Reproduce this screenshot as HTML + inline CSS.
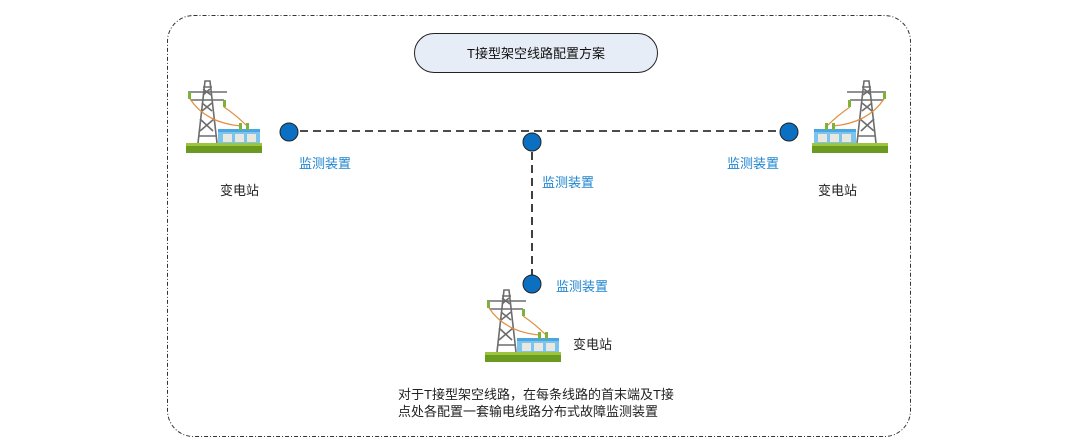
<!DOCTYPE html>
<html><head><meta charset="utf-8"><style>
html,body{margin:0;padding:0;background:#fff;width:1080px;height:447px;overflow:hidden}
svg text{font-family:"Liberation Sans","Noto Sans CJK SC",sans-serif}
</style></head><body>
<svg width="1080" height="447" viewBox="0 0 1080 447" xmlns="http://www.w3.org/2000/svg">
<defs>
<g id="ic">
  <!-- ground -->
  <rect x="0" y="62" width="76" height="10" fill="#6a9a1f"/>
  <rect x="0" y="62" width="76" height="3" fill="#9cc43c"/>
  <!-- tower -->
  <g stroke="#6d6d6d" stroke-width="1.6" fill="none">
    <path d="M12 62 L19 0 L24 0 L31 62"/>
    <path d="M14 50 L28 38 M14 38 L27 50 M16 30 L26 22 M16 22 L26 30 M17 14 L24 8 M17 8 L25 14 M13 55 L30 55"/>
    <path d="M2 11 L41 11 M5 19 L38 19 M17 6 L26 6"/>
  </g>
  <rect x="2" y="11" width="3" height="7" fill="#7db33a"/>
  <rect x="37" y="19" width="3" height="7" fill="#7db33a"/>
  <!-- wires -->
  <path d="M4 18 Q20 42 55 45" stroke="#e09040" stroke-width="1.2" fill="none"/>
  <path d="M38 26 Q50 34 61 45" stroke="#e09040" stroke-width="1.2" fill="none"/>
  <!-- substation -->
  <rect x="32" y="48" width="42" height="14" fill="#7cc4ee"/>
  <rect x="32" y="48" width="42" height="3" fill="#4aa6e0"/>
  <rect x="53" y="42" width="3" height="7" fill="#7db33a"/>
  <rect x="60" y="42" width="3" height="7" fill="#7db33a"/>
  <rect x="37" y="53" width="9" height="8" fill="#e8e8e0"/>
  <rect x="49" y="53" width="9" height="8" fill="#e8e8e0"/>
  <rect x="61" y="53" width="9" height="8" fill="#e8e8e0"/>
</g>
</defs>
<rect x="167.5" y="15.5" width="743" height="421" rx="26" fill="none" stroke="#333" stroke-width="1" stroke-dasharray="4,2,1,2"/>
<rect x="414.5" y="33.5" width="243" height="39" rx="19.5" fill="#e7edf7" stroke="#222" stroke-width="1"/>
<text x="536" y="58" font-size="13" text-anchor="middle" fill="#111">T接型架空线路配置方案</text>

<use href="#ic" x="186" y="81"/>
<use href="#ic" transform="translate(888,81) scale(-1,1)"/>
<use href="#ic" x="485" y="290"/>

<g stroke="#111" stroke-width="1.6" stroke-dasharray="8,5" fill="none">
  <line x1="300" y1="131" x2="779" y2="131"/>
  <line x1="532" y1="152" x2="532" y2="275"/>
</g>
<g fill="#0b6fc2" stroke="#222" stroke-width="1">
  <circle cx="289" cy="132" r="9"/>
  <circle cx="532" cy="142" r="9"/>
  <circle cx="789" cy="132" r="9"/>
  <circle cx="532" cy="284" r="9"/>
</g>
<g font-size="13" fill="#1f84cf">
  <text x="299" y="168">监测装置</text>
  <text x="542" y="187">监测装置</text>
  <text x="727" y="168">监测装置</text>
  <text x="556" y="291">监测装置</text>
</g>
<g font-size="13" fill="#222">
  <text x="220" y="195">变电站</text>
  <text x="818" y="195">变电站</text>
  <text x="573" y="349">变电站</text>
  <text x="398" y="399">对于T接型架空线路，在每条线路的首末端及T接</text>
  <text x="398" y="416">点处各配置一套输电线路分布式故障监测装置</text>
</g>
</svg>
</body></html>
